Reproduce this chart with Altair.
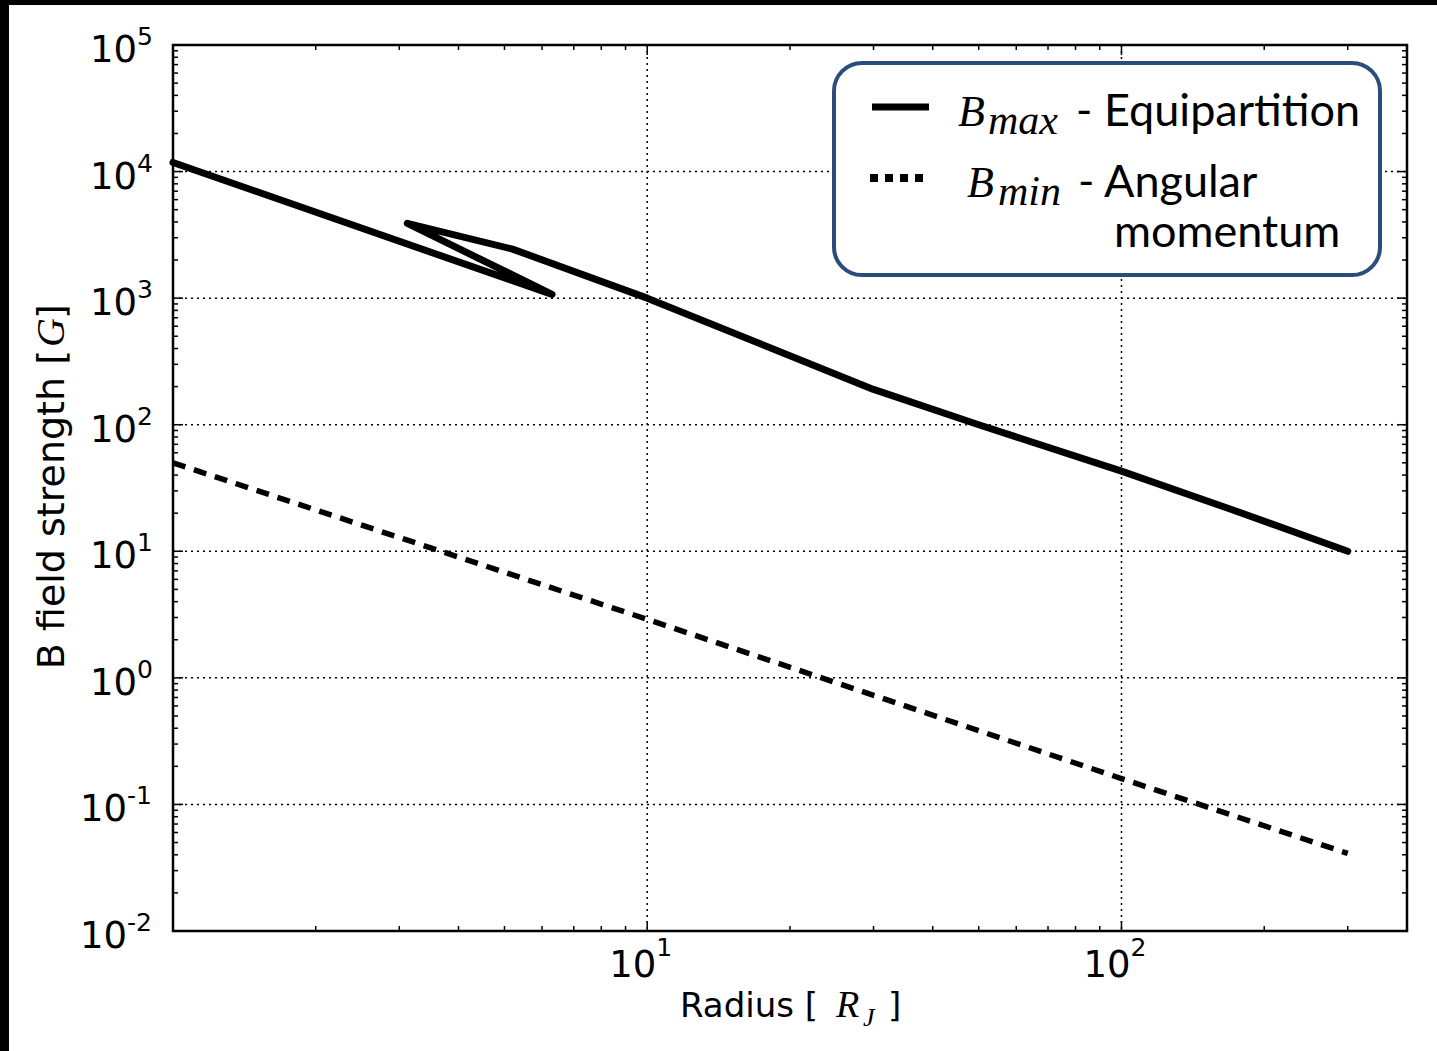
import altair as alt
import pandas as pd

# ---- data ----
# B_max - Equipartition (solid line, points in drawing order)
bmax_r = [1.0, 6.3, 3.12, 5.2, 10.0, 30.0, 50.0, 100.0, 170.0, 300.0]
bmax_B = [11800, 1070, 3900, 2440, 1000, 190, 100, 43, 21.5, 10]
# B_min - Angular momentum (dashed line)
bmin_r = [1.0, 10.0, 100.0, 300.0]
bmin_B = [50, 2.9, 0.16, 0.041]

# ---- ticks / labels ----
x_major = [10, 100]
x_exp = ["1", "2"]
x_minor = [2, 3, 4, 5, 6, 7, 8, 9, 20, 30, 40, 50, 60, 70, 80, 90, 200, 300]
y_decades = [1e-2, 1e-1, 1, 10, 100, 1e3, 1e4, 1e5]
y_exp = ["-2", "-1", "0", "1", "2", "3", "4", "5"]
minor_mult = [2, 3, 4, 5, 6, 7, 8, 9]

W, H = 1234, 886
SANS = "DejaVu Sans"
MATH = "Liberation Serif"
LEG = "Lato"

xs = alt.Scale(type="log", domain=[1, 400], nice=False)
ys = alt.Scale(type="log", domain=[0.01, 1e5], nice=False)

df_max = pd.DataFrame({"r": bmax_r, "B": bmax_B, "i": list(range(len(bmax_r)))})
df_min = pd.DataFrame({"r": bmin_r, "B": bmin_B, "i": list(range(len(bmin_r)))})

# ---- dotted grid ----
grid_vx = alt.Chart(pd.DataFrame({"r": x_major})).mark_rule(
    color="black", strokeWidth=1.5, strokeDash=[2, 4]
).encode(x=alt.X("r:Q", scale=xs, axis=None), y=alt.value(0), y2=alt.value(H))
grid_hy = alt.Chart(pd.DataFrame({"B": y_decades[1:-1]})).mark_rule(
    color="black", strokeWidth=1.5, strokeDash=[2, 4]
).encode(y=alt.Y("B:Q", scale=ys, axis=None), x=alt.value(0), x2=alt.value(W))

line_max = alt.Chart(df_max).mark_line(
    color="black", strokeWidth=7, strokeCap="round", strokeJoin="round"
).encode(
    x=alt.X("r:Q", scale=xs, axis=None),
    y=alt.Y("B:Q", scale=ys, axis=None),
    order=alt.Order("i:Q"),
)

line_min = alt.Chart(df_min).mark_line(
    color="black", strokeWidth=5.5, strokeDash=[13, 9]
).encode(
    x=alt.X("r:Q", scale=xs, axis=None),
    y=alt.Y("B:Q", scale=ys, axis=None),
    order=alt.Order("i:Q"),
)

# ---- tick marks (inside, all four sides) ----
df_xmin = pd.DataFrame({"r": x_minor})
df_xmaj = pd.DataFrame({"r": x_major})
y_minor = [m * d for d in y_decades[:-1] for m in minor_mult]
df_ymin = pd.DataFrame({"B": y_minor})
df_ymaj = pd.DataFrame({"B": y_decades})

def xticks(df, length):
    b = alt.Chart(df).mark_rule(color="black", strokeWidth=1.5).encode(
        x=alt.X("r:Q", scale=xs, axis=None), y=alt.value(H), y2=alt.value(H - length))
    t = alt.Chart(df).mark_rule(color="black", strokeWidth=1.5).encode(
        x=alt.X("r:Q", scale=xs, axis=None), y=alt.value(0), y2=alt.value(length))
    return [b, t]

def yticks(df, length):
    l = alt.Chart(df).mark_rule(color="black", strokeWidth=1.5).encode(
        y=alt.Y("B:Q", scale=ys, axis=None), x=alt.value(0), x2=alt.value(length))
    r = alt.Chart(df).mark_rule(color="black", strokeWidth=1.5).encode(
        y=alt.Y("B:Q", scale=ys, axis=None), x=alt.value(W), x2=alt.value(W - length))
    return [l, r]

ticks = xticks(df_xmin, 5) + xticks(df_xmaj, 10) + yticks(df_ymin, 5) + yticks(df_ymaj, 10)

# ---- tick labels ----
df_ylab = pd.DataFrame({"B": y_decades, "e": y_exp})
df_ypos = df_ylab[~df_ylab["e"].str.startswith("-")]
df_yneg = df_ylab[df_ylab["e"].str.startswith("-")]

def ylabels(df, x10, xsup):
    ten = alt.Chart(df).mark_text(
        text="10", align="right", baseline="alphabetic", font=SANS, fontSize=37, dy=17, color="black"
    ).encode(y=alt.Y("B:Q", scale=ys, axis=None), x=alt.value(x10))
    sup = alt.Chart(df).mark_text(
        align="left", baseline="alphabetic", font=SANS, fontSize=25, dy=0, color="black"
    ).encode(y=alt.Y("B:Q", scale=ys, axis=None), x=alt.value(xsup), text="e:N")
    return [ten, sup]

df_xlab = pd.DataFrame({"r": x_major, "e": x_exp})
xten = alt.Chart(df_xlab).mark_text(
    text="10", align="right", baseline="alphabetic", font=SANS, fontSize=37, dx=9, color="black"
).encode(x=alt.X("r:Q", scale=xs, axis=None), y=alt.value(H + 46))
xsup = alt.Chart(df_xlab).mark_text(
    align="left", baseline="alphabetic", font=SANS, fontSize=25, dx=9, color="black"
).encode(x=alt.X("r:Q", scale=xs, axis=None), y=alt.value(H + 25), text="e:N")

labels = ylabels(df_ypos, -36, -36) + ylabels(df_yneg, -46, -46) + [xten, xsup]

# ---- axis titles ----
one = pd.DataFrame({"k": [0]})

def txt(s, x, y, font=SANS, size=34, align="left", style="normal", angle=0, color="black"):
    props = dict(text=s, align=align, baseline="alphabetic", font=font, fontSize=size,
                 fontStyle=style, color=color)
    if angle:
        props["angle"] = angle
    return alt.Chart(one).mark_text(**props).encode(x=alt.value(x), y=alt.value(y))

titles = [
    txt("Radius [", 645, 972, align="right"),
    txt("R", 663, 972, font=MATH, size=38, style="italic"),
    txt("J", 690, 981, font=MATH, size=26, style="italic"),
    txt("]", 715, 972),
    txt("B field strength [", -109, 305, align="right", size=38, angle=270),
    txt("G", -109, 302, font=MATH, size=40, style="italic", angle=270),
    txt("]", -109, 274, size=38, angle=270),
]

# ---- legend box ----
legbox = alt.Chart(one).mark_rect(
    fill="white", stroke="#2c4d7c", strokeWidth=4, cornerRadius=28
).encode(x=alt.value(661), x2=alt.value(1207), y=alt.value(18), y2=alt.value(230))

leg_solid = alt.Chart(one).mark_rule(color="black", strokeWidth=7).encode(
    x=alt.value(699), x2=alt.value(756), y=alt.value(62))
leg_dot = alt.Chart(one).mark_rule(color="black", strokeWidth=8, strokeDash=[8, 7]).encode(
    x=alt.value(697), x2=alt.value(756), y=alt.value(133))

legend = [
    legbox, leg_solid, leg_dot,
    txt("B", 785, 81, font=MATH, size=44, style="italic"),
    txt("max", 815, 89, font=MATH, size=42, style="italic"),
    txt("-", 903, 81, font=LEG, size=44),
    txt("Equipartition", 931, 81, font=LEG, size=45),
    txt("B", 794, 152, font=MATH, size=44, style="italic"),
    txt("min", 825, 160, font=MATH, size=42, style="italic"),
    txt("-", 905, 152, font=LEG, size=44),
    txt("Angular", 931, 152, font=LEG, size=45),
    txt("momentum", 941, 202, font=LEG, size=45),
]

# ---- black frame of the original picture ----
frame = [
    alt.Chart(one).mark_rect(color="black").encode(
        x=alt.value(-173), x2=alt.value(-164), y=alt.value(-45), y2=alt.value(H + 120)),
    alt.Chart(one).mark_rect(color="black").encode(
        x=alt.value(-173), x2=alt.value(W + 30), y=alt.value(-45), y2=alt.value(-40)),
]

chart = alt.layer(
    grid_vx, grid_hy, line_max, line_min, *ticks, *labels, *titles, *legend, *frame
).properties(
    width=W, height=H,
    padding={"left": 173, "top": 45, "right": 30, "bottom": 120},
    autosize=alt.AutoSizeParams(type="none"),
    background="white",
).configure_view(stroke="black", strokeWidth=2.5)

chart.save("out.html", embed_options={"renderer": "svg", "actions": False})
